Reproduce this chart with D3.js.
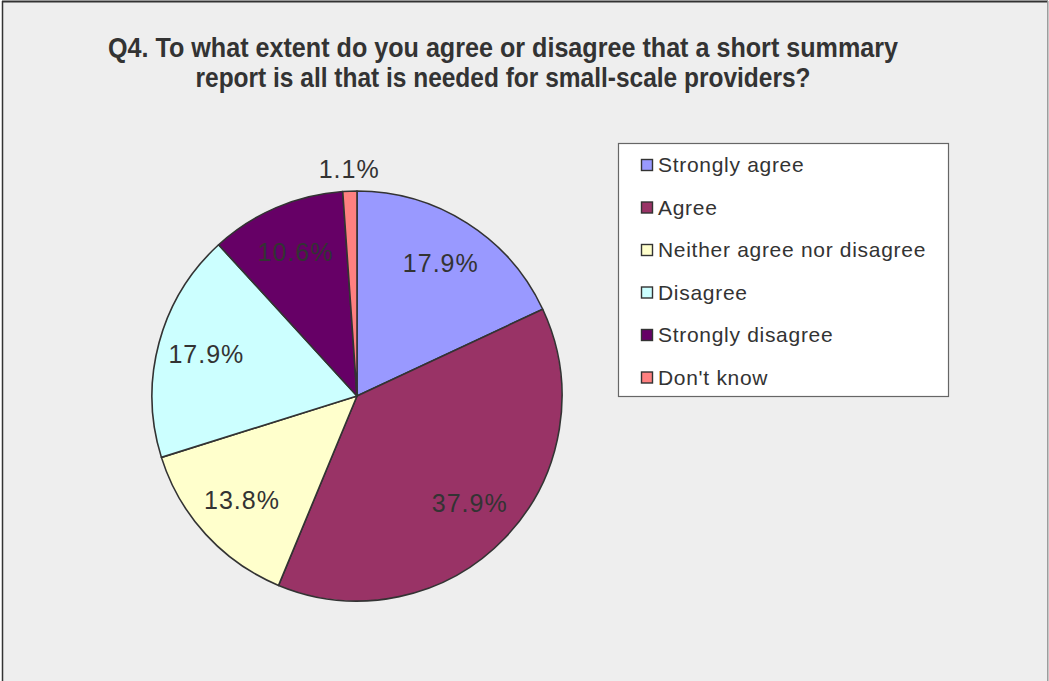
<!DOCTYPE html>
<html><head><meta charset="utf-8">
<script src="https://cdn.jsdelivr.net/npm/d3@7"></script>
<style>
html,body{margin:0;padding:0;background:#fff;}
svg{display:block;}
text{font-family:"Liberation Sans",Arial,sans-serif;}
</style></head>
<body>
<svg id="chart" width="1049" height="681"></svg>
<script>
const categories = ["Strongly agree","Agree","Neither agree nor disagree","Disagree","Strongly disagree","Don't know"];
const values = [17.9, 37.9, 13.8, 17.9, 10.6, 1.1];
const labels = ["17.9%","37.9%","13.8%","17.9%","10.6%","1.1%"];
const colors = ["#9999FF","#993366","#FFFFCC","#CCFFFF","#660066","#FF8080"];
const titleLines = ["Q4. To what extent do you agree or disagree that a short summary",
                    "report is all that is needed for small-scale providers?"];

const svg = d3.select("#chart");

// chart area background + border
svg.append("rect").attr("x",2).attr("y",1.5).attr("width",1045.5).attr("height",700)
  .attr("fill","#eeeeee").attr("stroke","none");
svg.append("line").attr("x1",2).attr("x2",1048).attr("y1",1.5).attr("y2",1.5).attr("stroke","#333").attr("stroke-width",2);
svg.append("line").attr("x1",2.5).attr("x2",2.5).attr("y1",1).attr("y2",681).attr("stroke","#333").attr("stroke-width",1.5);
svg.append("line").attr("x1",1047.8).attr("x2",1047.8).attr("y1",1).attr("y2",681).attr("stroke","#999").attr("stroke-width",1.5);

// title
const titleW = [790, 615];
svg.append("g").selectAll("text").data(titleLines).join("text")
  .attr("x", 503).attr("y", (d,i)=> 57 + i*30)
  .attr("text-anchor","middle")
  .attr("font-size", 27).attr("font-weight","bold").attr("fill","#333")
  .attr("textLength",(d,i)=>titleW[i]).attr("lengthAdjust","spacingAndGlyphs")
  .text(d=>d);

// pie
const cx = 357, cy = 396, r = 205;
const pie = d3.pie().sort(null).value(d=>d)(values);
const arc = d3.arc().innerRadius(0).outerRadius(r);
const g = svg.append("g").attr("transform",`translate(${cx},${cy})`);
g.selectAll("path").data(pie).join("path")
  .attr("d", arc)
  .attr("fill",(d,i)=>colors[i])
  .attr("stroke","#333").attr("stroke-width",1.6).attr("stroke-linejoin","round");

const labelArc = d3.arc().innerRadius(156).outerRadius(156);
const outerArc = d3.arc().innerRadius(226).outerRadius(226);
g.selectAll("text.lbl").data(pie).join("text").attr("class","lbl")
  .attr("transform",(d,i)=>{
    const c = (values[i] < 3 ? outerArc : labelArc).centroid(d);
    return `translate(${c[0]},${c[1]+8})`;
  })
  .attr("text-anchor","middle").attr("font-size",25).attr("letter-spacing",1)
  .attr("fill","#333")
  .text((d,i)=>labels[i]);

// legend
const lg = svg.append("g");
lg.append("rect").attr("x",618.5).attr("y",143.5).attr("width",330).attr("height",253)
  .attr("fill","#fff").attr("stroke","#666").attr("stroke-width",1.2);
const items = lg.selectAll("g.item").data(categories).join("g").attr("class","item")
  .attr("transform",(d,i)=>`translate(0,${165 + i*42.5})`);
items.append("rect").attr("x",641.5).attr("y",-5.5).attr("width",11).attr("height",11)
  .attr("fill",(d,i)=>colors[i]).attr("stroke","#333").attr("stroke-width",1.4);
items.append("text").attr("x",658).attr("y",7)
  .attr("font-size",21).attr("letter-spacing",0.7).attr("fill","#333").text(d=>d);
</script>
</body></html>
